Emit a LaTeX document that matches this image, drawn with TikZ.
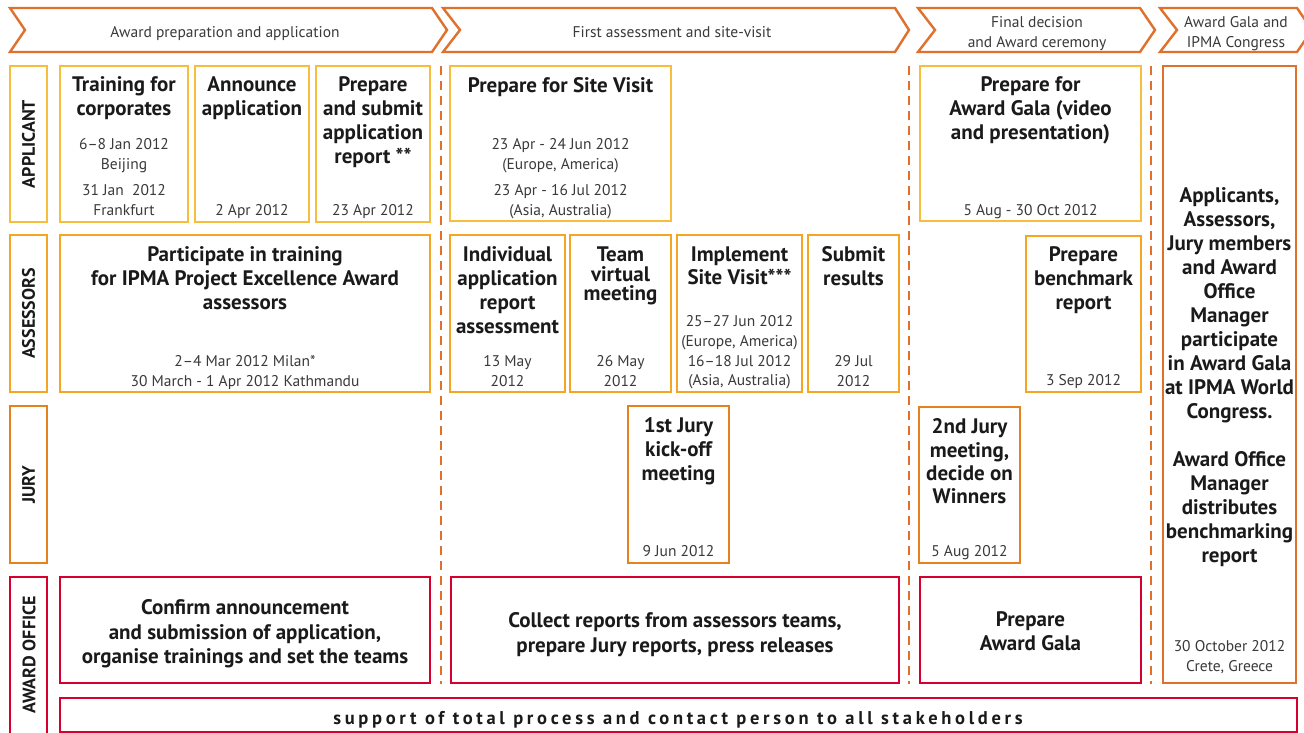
\documentclass[tikz,border=0pt]{standalone}
\usepackage{fontspec}
\setmainfont{PT Sans}
\usetikzlibrary{fit}
\definecolor{appY}{HTML}{F6BE3C}
\definecolor{assO}{HTML}{F4A623}
\definecolor{juryO}{HTML}{E5821F}
\definecolor{chevO}{HTML}{E0712C}
\definecolor{redC}{HTML}{D6002E}
\definecolor{darktext}{HTML}{1A1A1A}
\definecolor{lighttext}{HTML}{3A3A3A}
\tikzset{
  box/.style={draw=#1, line width=2.2pt, inner sep=0pt},
  chev/.style={draw=chevO, line width=2.4pt, line join=miter},
  dashline/.style={draw=chevO, line width=2.6pt, dash pattern=on 9pt off 6pt},
  bt/.style={font=\bfseries\fontsize{21}{24}\selectfont, text=darktext, align=center, inner sep=0pt, anchor=north},
  lt/.style={font=\fontsize{15.5}{20}\selectfont, text=lighttext, align=center, inner sep=0pt, anchor=north},
  lbl/.style={font=\bfseries\fontsize{18}{20}\selectfont, text=darktext, rotate=90, inner sep=0pt},
}
\newcommand\mkbox[6]{\node[box=#2, fit={(#3,#4) (#5,#6)}] (#1) {};}
\begin{document}
\begin{tikzpicture}[x=1pt,y=-1pt]
\useasboundingbox (0,0) rectangle (1304,733);
\fill[white] (0,0) rectangle (1304,733);

% header chevrons
\draw[chev] (10,8) -- (432,8) -- (447,30) -- (432,52) -- (10,52) -- (25,30) -- cycle;
\draw[chev] (443,8) -- (895,8) -- (909,30) -- (895,52) -- (443,52) -- (460,30) -- cycle;
\draw[chev] (918,8) -- (1140,8) -- (1155,30) -- (1140,52) -- (918,52) -- (935,30) -- cycle;
\draw[chev] (1160,8) -- (1297,8) -- (1312,30) -- (1297,52) -- (1160,52) -- (1177,30) -- cycle;
\node[lt] (h1) at (225,26) {Award preparation and application};
\node[lt] (h2) at (672,26) {First assessment and site-visit};
\node[lt] (h3) at (1037,16) {Final decision\\and Award ceremony};
\node[lt] (h4) at (1236,16) {Award Gala and\\IPMA Congress};

% phase separators
\draw[dashline] (441,66) -- (441,684);
\draw[dashline] (909,66) -- (909,684);
\draw[dashline] (1151,66) -- (1151,684);

% row labels
\mkbox{lapp}{appY}{10}{66}{47}{222}
\mkbox{lass}{assO}{10}{235}{47}{392}
\mkbox{ljur}{juryO}{10}{406}{47}{563}
\mkbox{laward}{redC}{10}{577}{47}{740}
\node[lbl] (tapp) at (lapp.center) {APPLICANT};
\node[lbl] (tass) at (lass.center) {ASSESSORS};
\node[lbl] (tjur) at (ljur.center) {JURY};
\node[lbl] (taward) at (29,655) {AWARD OFFICE};

% applicant row
\mkbox{tc}{appY}{60}{66}{188}{222}
\node[bt] (tc-t) at (124,76.5) {Training for\\corporates};
\node[lt] (tc-d) at (124,138.5) {6–8 Jan 2012\\Beijing\\[6pt]31 Jan\ \ 2012\\Frankfurt};
\mkbox{aa}{appY}{195}{66}{309}{222}
\node[bt] (aa-t) at (252,76.5) {Announce\\application};
\node[lt] (aa-d) at (252,204.5) {2 Apr 2012};
\mkbox{ps}{appY}{316}{66}{430}{222}
\node[bt] (ps-t) at (373,76.5) {Prepare\\and submit\\application\\report **};
\node[lt] (ps-d) at (373,204.5) {23 Apr 2012};
\mkbox{sv}{appY}{450}{66}{671}{221}
\node[bt] (sv-t) at (560.5,77.5) {Prepare for Site Visit};
\node[lt] (sv-d) at (560.5,138.5) {23 Apr - 24 Jun 2012\\(Europe, America)\\[6pt]23 Apr - 16 Jul 2012\\(Asia, Australia)};
\mkbox{pg}{appY}{920}{66}{1141}{221}
\node[bt] (pg-t) at (1030.5,76.5) {Prepare for\\Award Gala (video\\and presentation)};
\node[lt] (pg-d) at (1030.5,204.5) {5 Aug - 30 Oct 2012};

% right column
\mkbox{rc}{chevO}{1163}{66}{1296}{683}
\node[bt] (rc-t) at (1229.5,187.5) {Applicants,\\Assessors,\\Jury members\\and Award\\Office\\Manager\\participate\\in Award Gala\\at IPMA World\\Congress.\\[24pt]Award Office\\Manager\\distributes\\benchmarking\\report};
\node[lt] (rc-d) at (1229.5,640.5) {30 October 2012\\Crete, Greece};

% assessors row
\mkbox{ptr}{assO}{60}{235}{430}{392}
\node[bt] (ptr-t) at (245,246.5) {Participate in training\\for IPMA Project Excellence Award\\assessors};
\node[lt, font=\fontsize{15.5}{19.5}\selectfont] (ptr-d) at (245,355.5) {2–4 Mar 2012 Milan*\\30 March - 1 Apr 2012 Kathmandu};
\mkbox{ind}{assO}{450}{235}{565}{392}
\node[bt] (ind-t) at (507.5,246.5) {Individual\\application\\report\\assessment};
\node[lt, font=\fontsize{15.5}{19.5}\selectfont] (ind-d) at (507.5,355.5) {13 May\\2012};
\mkbox{team}{assO}{570}{235}{671}{392}
\node[bt, font=\bfseries\fontsize{21}{19.7}\selectfont] (team-t) at (620.5,246.5) {Team\\virtual\\meeting};
\node[lt, font=\fontsize{15.5}{19.5}\selectfont] (team-d) at (620.5,355.5) {26 May\\2012};
\mkbox{impl}{assO}{677}{235}{802}{392}
\node[bt, font=\bfseries\fontsize{21}{23.5}\selectfont] (impl-t) at (739.5,246.5) {Implement\\Site Visit***};
\node[lt, font=\fontsize{15.5}{19.7}\selectfont] (impl-d) at (739.5,315.5) {25–27 Jun 2012\\(Europe, America)\\16–18 Jul 2012\\(Asia, Australia)};
\mkbox{sub}{assO}{808}{235}{899}{392}
\node[bt, font=\bfseries\fontsize{21}{23.5}\selectfont] (sub-t) at (853.5,246.5) {Submit\\results};
\node[lt, font=\fontsize{15.5}{19.5}\selectfont] (sub-d) at (853.5,355.5) {29 Jul\\2012};
\mkbox{bench}{assO}{1026}{236}{1141}{392}
\node[bt] (bench-t) at (1083.5,246.5) {Prepare\\benchmark\\report};
\node[lt] (bench-d) at (1083.5,374.5) {3 Sep 2012};

% jury row
\mkbox{jone}{juryO}{628}{406}{729}{563}
\node[bt] (jone-t) at (678.5,417.5) {1st Jury\\kick-off\\meeting};
\node[lt] (jone-d) at (678.5,545.5) {9 Jun 2012};
\mkbox{jtwo}{juryO}{919}{407}{1020}{563}
\node[bt, font=\bfseries\fontsize{21}{23.4}\selectfont] (jtwo-t) at (969.5,418.5) {2nd Jury\\meeting,\\decide on\\Winners};
\node[lt] (jtwo-d) at (969.5,545.5) {5 Aug 2012};

% award office row
\mkbox{conf}{redC}{60}{577}{430}{683}
\node[bt, font=\bfseries\fontsize{21}{24.5}\selectfont] (conf-t) at (245,599.5) {Confirm announcement\\and submission of application,\\organise trainings and set the teams};
\mkbox{coll}{redC}{451}{577}{899}{683}
\node[bt, font=\bfseries\fontsize{21}{25}\selectfont] (coll-t) at (675,612.5) {Collect reports from assessors teams,\\prepare Jury reports, press releases};
\mkbox{pag}{redC}{920}{577}{1141}{683}
\node[bt] (pag-t) at (1030.5,611.5) {Prepare\\Award Gala};

% support bar
\mkbox{supp}{redC}{60}{698}{1297}{732}
\node[font=\bfseries\fontsize{18.5}{20}\selectfont\addfontfeature{LetterSpace=20}, text=darktext, inner sep=0pt, anchor=base] (supp-t) at (678,724.5) {support of total process and contact person to all stakeholders};
\end{tikzpicture}
\end{document}
